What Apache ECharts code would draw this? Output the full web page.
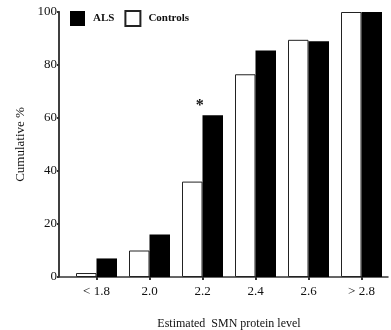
<!DOCTYPE html>
<html><head><meta charset="utf-8">
<script src="https://cdn.jsdelivr.net/npm/echarts@6/dist/echarts.min.js"></script>
<style>html,body{margin:0;padding:0;background:#fff}#c{width:391px;height:330px}</style>
</head><body><div id="c"></div>
<script>
const categories = ['< 1.8', '2.0', '2.2', '2.4', '2.6', '> 2.8'];
const controls = [1.5, 10, 36, 76.5, 89.5, 100];
const als = [7, 16, 61, 85.5, 89, 100];
const yTicks = [0, 20, 40, 60, 80, 100];
const starIndex = 2;

const font = '"Liberation Serif", "Times New Roman", serif';
const lineCol = '#333';
const chart = echarts.init(document.getElementById('c'), null, {renderer: 'canvas'});
chart.setOption({
  animation: false,
  backgroundColor: '#fff',
  textStyle: {fontFamily: font, color: '#111'},
  grid: [
    {left: 59, right: 3, top: 12, bottom: 53, containLabel: false, outerBoundsMode: 'none'},
    {left: 70, right: 3, top: 12, bottom: 53, containLabel: false, outerBoundsMode: 'none'}
  ],
  legend: {
    data: ['ALS', 'Controls'],
    left: 65, top: 5, itemWidth: 15, itemHeight: 15, itemGap: 10,
    textStyle: {fontFamily: font, fontSize: 11, color: '#111', fontWeight: 'bold', padding: [8, 0, 0, 3]},
    icon: 'rect'
  },
  xAxis: [
    {gridIndex: 0, type: 'value', min: 0, max: 1,
      axisLine: {show: true, onZero: false, lineStyle: {color: lineCol, width: 1.5}},
      axisTick: {show: false}, axisLabel: {show: false}, splitLine: {show: false}},
    {gridIndex: 1, type: 'category', data: categories,
      axisLine: {show: false},
      axisTick: {show: true, alignWithLabel: true, length: 3, lineStyle: {color: lineCol, width: 2}},
      axisLabel: {fontFamily: font, fontSize: 13, color: '#111', margin: 8},
      name: 'Estimated  SMN protein level', nameLocation: 'middle', nameGap: 41,
      nameTextStyle: {fontFamily: font, fontSize: 12, color: '#111'}}
  ],
  yAxis: [
    {gridIndex: 0, type: 'value', min: 0, max: 100, interval: 20,
      axisLine: {show: true, onZero: false, lineStyle: {color: lineCol, width: 1.5, opacity: 1}},
      axisTick: {show: true, length: 2, lineStyle: {color: lineCol, width: 2}},
      splitLine: {show: false},
      axisLabel: {fontFamily: font, fontSize: 13, color: '#111', margin: 2,
        formatter: v => yTicks.includes(v) ? String(v) : ''},
      name: 'Cumulative %', nameLocation: 'middle', nameGap: 30,
      nameTextStyle: {fontFamily: font, fontSize: 13, color: '#111'}},
    {gridIndex: 1, type: 'value', min: 0, max: 100, interval: 20, show: false}
  ],
  graphic: [{type: 'line', z: 10, shape: {x1: 59, y1: 11, x2: 59, y2: 277}, style: {stroke: lineCol, lineWidth: 1.5}}],
  series: [
    {name: 'Controls', type: 'bar', xAxisIndex: 1, yAxisIndex: 1, data: controls, barWidth: 20.5, barGap: '0%',
      itemStyle: {color: '#fff', borderColor: '#222', borderWidth: 1}},
    {name: 'ALS', type: 'bar', xAxisIndex: 1, yAxisIndex: 1, barWidth: 20.5,
      data: als.map((v, i) => i === starIndex ? {value: v, label: {show: true, position: 'top', formatter: '*', offset: [-13, 4], fontSize: 16, fontWeight: 'bold', color: '#111', fontFamily: font}} : v),
      itemStyle: {color: '#000', borderColor: '#000', borderWidth: 0}}
  ]
});
</script></body></html>
